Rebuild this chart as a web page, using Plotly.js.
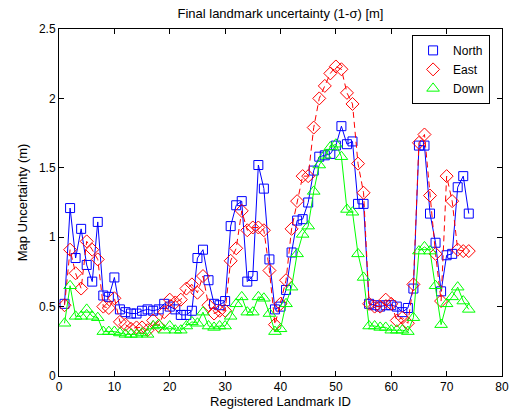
<!DOCTYPE html>
<html>
<head>
<meta charset="utf-8">
<script src="https://cdn.plot.ly/plotly-3.0.1.min.js"></script>
<style>html,body{margin:0;padding:0;background:#fff;}#chart{width:509px;height:416px;}</style>
</head>
<body>
<div id="chart"></div>
<script>
var ids = [];
for (var i = 1; i <= 74; i++) ids.push(i);

var north = [0.52,1.21,0.85,1.06,0.80,0.68,1.11,0.58,0.57,0.71,
             0.48,0.46,0.45,0.45,0.47,0.48,0.47,0.48,0.52,0.50,
             0.48,0.44,0.44,0.47,0.85,0.91,0.69,0.52,0.51,0.54,
             1.08,1.23,1.26,0.68,0.72,1.52,1.35,0.84,0.48,0.50,
             0.62,0.89,1.12,1.13,1.25,1.48,1.58,1.59,1.60,1.66,
             1.80,1.67,1.69,1.24,1.24,0.52,0.51,0.50,0.51,0.51,
             0.50,0.46,0.49,0.63,1.66,1.66,1.17,0.96,0.61,0.87,
             0.88,1.36,1.44,1.17];
var east = [0.51,0.91,0.74,0.63,0.97,0.91,0.84,0.50,0.49,0.56,
            0.39,0.37,0.34,0.35,0.35,0.33,0.40,0.36,0.46,0.55,
            0.53,0.55,0.63,0.66,0.60,0.72,0.51,0.45,0.47,0.47,
            0.83,0.92,1.19,1.05,1.07,1.07,1.05,0.76,0.37,0.52,
            0.69,1.06,1.26,1.44,1.44,1.79,2.00,2.09,2.18,2.23,
            2.21,2.04,1.96,1.53,1.32,0.52,0.50,0.50,0.55,0.52,
            0.40,0.42,0.38,0.66,1.68,1.74,1.30,0.88,0.54,1.44,
            1.26,0.91,0.90,0.90];
var down = [0.38,0.65,0.43,0.43,0.48,0.43,0.42,0.32,0.32,0.32,
            0.31,0.30,0.30,0.30,0.31,0.30,0.36,0.37,0.33,0.36,
            0.33,0.33,0.36,0.39,0.38,0.46,0.36,0.35,0.36,0.36,
            0.43,0.52,0.57,0.46,0.46,0.57,0.56,0.45,0.32,0.34,
            0.52,0.64,0.88,1.02,1.08,1.33,1.52,1.59,1.65,1.67,
            1.58,1.20,1.18,0.88,0.71,0.36,0.36,0.35,0.35,0.33,
            0.33,0.33,0.32,0.42,0.90,0.93,0.90,0.65,0.37,0.52,
            0.57,0.64,0.54,0.48];

var seriesNames = ['North', 'East', 'Down'];

function lineTrace(y, color, dash) {
  return {x: ids, y: y, mode: 'lines', showlegend: false, hoverinfo: 'skip',
          line: {color: color, width: 1, dash: dash}};
}
function markTrace(y, name, color, symbol, size) {
  return {x: ids, y: y, mode: 'markers', name: name,
          marker: {symbol: symbol, size: size, color: color,
                   line: {color: color, width: 1}}};
}

var traces = [
  lineTrace(north, '#0000ff', 'solid'),
  markTrace(north, seriesNames[0], '#0000ff', 'square-open', 9),
  lineTrace(east, '#ff0000', '6px,4px'),
  markTrace(east, seriesNames[1], '#ff0000', 'diamond-open', 10),
  lineTrace(down, '#00ff00', 'solid'),
  markTrace(down, seriesNames[2], '#00ff00', 'triangle-up-open', 11)
];

var ff = 'Liberation Sans, Arial, sans-serif';
var axisCommon = {
  showline: true, linecolor: '#000', linewidth: 1, mirror: 'ticks',
  ticks: 'inside', ticklen: 5, tickcolor: '#000', showgrid: false, zeroline: false,
  tickfont: {family: ff, size: 12, color: '#000'}
};

var layout = {
  width: 509, height: 416,
  margin: {l: 59, r: 7, t: 29, b: 40},
  paper_bgcolor: '#fff', plot_bgcolor: '#fff',
  font: {family: ff, size: 12, color: '#000'},
  title: {text: 'Final landmark uncertainty (1-σ) [m]', x: 0.551, xanchor: 'center', y: 0.967, yanchor: 'middle',
          font: {family: ff, size: 13, color: '#000'}},
  xaxis: Object.assign({}, axisCommon, {range: [0, 80], dtick: 10, tick0: 0,
          title: {text: 'Registered Landmark ID', standoff: 2, font: {family: ff, size: 13}}}),
  yaxis: Object.assign({}, axisCommon, {range: [0, 2.5], dtick: 0.5, tick0: 0,
          title: {text: 'Map Uncertainty (m)', standoff: 8, font: {family: ff, size: 13}}}),
  legend: {x: 0.797, xanchor: 'left', y: 0.983, yanchor: 'top', bgcolor: '#fff',
           bordercolor: '#000', borderwidth: 1, font: {family: ff, size: 12},
           tracegroupgap: 0, itemwidth: 30},
  showlegend: true
};

Plotly.newPlot('chart', traces, layout, {staticPlot: true, displayModeBar: false});
</script>
</body>
</html>
